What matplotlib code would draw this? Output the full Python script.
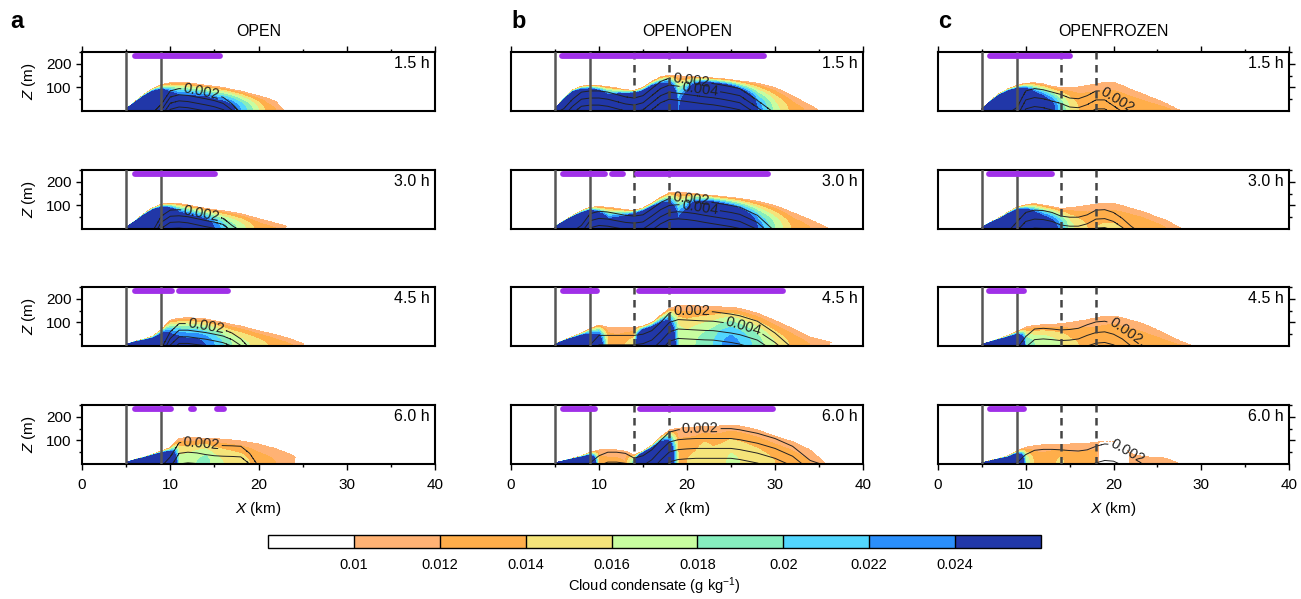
import matplotlib
matplotlib.use('Agg')
import matplotlib.pyplot as plt
import numpy as np

plt.rcParams['font.family'] = 'Liberation Sans'
plt.rcParams['mathtext.fontset'] = 'custom'
plt.rcParams['mathtext.rm'] = 'Liberation Sans'
plt.rcParams['mathtext.it'] = 'Liberation Sans:italic'

#==========
# DATA
#==========

x_nodes = [5, 6, 7, 8, 9, 10, 11, 12, 13, 14, 15, 16, 17, 18, 19, 20,
           21, 22, 23, 24, 25, 26, 28, 30, 32, 34, 36, 38]

runs = ['OPEN', 'OPENOPEN', 'OPENFROZEN']
letters = ['a', 'b', 'c']
times = ['1.5 h', '3.0 h', '4.5 h', '6.0 h']

# cloud top height (m), surface cloud condensate (g/kg), height of 0.002 line (m)
top_a1 = [10, 40, 70, 95, 112, 120, 122, 120, 115, 110, 105, 100, 92, 85, 75, 65, 55, 40, 0, 0, 0, 0, 0, 0, 0, 0, 0, 0]
q_a1 = [0.08, 0.08, 0.08, 0.07, 0.05, 0.035, 0.03, 0.03, 0.03, 0.03, 0.028, 0.027, 0.025, 0.022, 0.019, 0.016, 0.013, 0.012, 0.011, 0, 0, 0, 0, 0, 0, 0, 0, 0]
line_a1 = [-10, -10, -10, -10, 30, 85, 95, 92, 85, 78, 70, 58, 30, -10, -10, -10, -10, -10, -10, -10, -10, -10, -10, -10, -10, -10, -10, -10]

top_a2 = [8, 35, 65, 90, 105, 110, 108, 102, 95, 88, 82, 78, 72, 65, 55, 45, 35, 25, 15, 0, 0, 0, 0, 0, 0, 0, 0, 0]
q_a2 = [0.08, 0.08, 0.08, 0.08, 0.07, 0.05, 0.035, 0.032, 0.03, 0.028, 0.024, 0.021, 0.019, 0.017, 0.015, 0.013, 0.0125, 0.012, 0.011, 0, 0, 0, 0, 0, 0, 0, 0, 0]
line_a2 = [-10, -10, -10, -10, 55, 80, 82, 78, 70, 62, 55, 45, 15, -10, -10, -10, -10, -10, -10, -10, -10, -10, -10, -10, -10, -10, -10, -10]

top_a3 = [8, 20, 30, 42, 70, 110, 118, 120, 118, 115, 108, 100, 92, 85, 75, 65, 57, 48, 38, 25, 12, 0, 0, 0, 0, 0, 0, 0]
q_a3 = [0.06, 0.06, 0.05, 0.045, 0.04, 0.028, 0.026, 0.025, 0.025, 0.024, 0.022, 0.02, 0.018, 0.017, 0.016, 0.015, 0.014, 0.013, 0.0125, 0.012, 0.011, 0, 0, 0, 0, 0, 0, 0]
line_a3 = [-10, -10, -10, -10, -10, 60, 95, 95, 90, 85, 78, 70, 55, 30, -10, -10, -10, -10, -10, -10, -10, -10, -10, -10, -10, -10, -10, -10]

top_a4 = [8, 20, 30, 42, 55, 70, 110, 112, 112, 110, 108, 105, 102, 98, 92, 85, 75, 65, 50, 35, 0, 0, 0, 0, 0, 0, 0, 0]
q_a4 = [0.07, 0.07, 0.07, 0.07, 0.06, 0.04, 0.017, 0.017, 0.018, 0.019, 0.017, 0.016, 0.0155, 0.015, 0.014, 0.013, 0.0125, 0.012, 0.0115, 0.011, 0, 0, 0, 0, 0, 0, 0, 0]
line_a4 = [-10, -10, -10, -10, -10, 30, 90, 95, 92, 85, 80, 78, 77, 75, 45, -10, -10, -10, -10, -10, -10, -10, -10, -10, -10, -10, -10, -10]

top_b1 = [10, 55, 90, 105, 110, 108, 103, 98, 90, 88, 100, 125, 145, 153, 150, 147, 145, 143, 140, 137, 133, 128, 118, 100, 65, 25, -20, -60]
q_b1 = [0.08, 0.08, 0.08, 0.07, 0.06, 0.05, 0.035, 0.04, 0.05, 0.06, 0.06, 0.06, 0.05, 0.045, 0.023, 0.03, 0.05, 0.06, 0.06, 0.055, 0.05, 0.04, 0.024, 0.017, 0.013, 0.0115, 0.0105, 0]
line_b1 = [-10, 10, 50, 80, 85, 85, 80, 70, 60, 55, 65, 95, 125, 140, 135, 130, 125, 120, 116, 110, 103, 95, 45, -10, -10, -10, -10, -10]

top_b2 = [10, 35, 57, 78, 93, 95, 93, 88, 82, 79, 90, 110, 135, 155, 157, 153, 150, 146, 142, 138, 134, 130, 118, 100, 70, 40, 5, -40]
q_b2 = [0.08, 0.08, 0.08, 0.07, 0.06, 0.04, 0.028, 0.03, 0.035, 0.05, 0.06, 0.06, 0.05, 0.04, 0.025, 0.03, 0.045, 0.05, 0.05, 0.045, 0.04, 0.035, 0.024, 0.018, 0.0135, 0.012, 0.0105, 0]
line_b2 = [-10, -10, -10, 15, 65, 75, 72, 65, 58, 55, 60, 85, 112, 130, 133, 130, 125, 118, 112, 106, 100, 92, 58, -10, -10, -10, -10, -10]

top_b3 = [8, 25, 40, 55, 75, 90, 80, 78, 78, 78, 85, 100, 130, 160, 170, 172, 170, 168, 167, 166, 165, 160, 140, 108, 75, 38, 20, -10]
q_b3 = [0.07, 0.07, 0.06, 0.05, 0.035, 0.03, 0.014, 0.013, 0.014, 0.015, 0.05, 0.05, 0.045, 0.035, 0.018, 0.017, 0.018, 0.019, 0.02, 0.022, 0.023, 0.022, 0.019, 0.016, 0.0135, 0.012, 0.011, 0]
line_b3 = [-10, -10, -10, -10, 5, 45, 45, 45, 45, 45, 50, 65, 100, 140, 152, 150, 148, 146, 145, 140, 135, 128, 105, 55, -10, -10, -10, -10]

top_b4 = [6, 15, 25, 35, 50, 60, 62, 60, 55, 38, 55, 80, 115, 145, 152, 155, 157, 158, 160, 163, 166, 162, 145, 118, 95, 60, -5, -40]
q_b4 = [0.07, 0.07, 0.06, 0.05, 0.04, 0.013, 0.0125, 0.0125, 0.012, 0.02, 0.06, 0.06, 0.05, 0.035, 0.014, 0.014, 0.0145, 0.016, 0.015, 0.0155, 0.0165, 0.016, 0.015, 0.014, 0.013, 0.012, 0.011, 0]
line_b4 = [-10, -10, -10, -10, 5, 35, 50, 50, 45, 25, 35, 60, 100, 135, 145, 148, 150, 150, 150, 150, 150, 145, 130, 108, 75, 15, -10, -10]

top_c1 = [10, 45, 75, 95, 108, 118, 120, 115, 105, 100, 100, 102, 108, 115, 122, 122, 108, 92, 78, 62, 48, 32, -5, -20, -20, -20, -20, -20]
q_c1 = [0.08, 0.08, 0.08, 0.08, 0.07, 0.05, 0.035, 0.03, 0.026, 0.02, 0.016, 0.014, 0.014, 0.014, 0.014, 0.014, 0.0138, 0.0135, 0.0133, 0.013, 0.0128, 0.0125, 0.011, 0, 0, 0, 0, 0]
line_c1 = [-10, -10, -10, -10, 15, 85, 95, 90, 80, 70, 55, 52, 65, 85, 85, 60, 35, 10, -10, -10, -10, -10, -10, -10, -10, -10, -10, -10]

top_c2 = [8, 30, 48, 72, 93, 103, 108, 102, 95, 88, 90, 95, 100, 105, 110, 108, 100, 88, 78, 65, 50, 38, -2, -20, -20, -20, -20, -20]
q_c2 = [0.08, 0.08, 0.08, 0.08, 0.07, 0.05, 0.035, 0.03, 0.027, 0.022, 0.017, 0.015, 0.014, 0.014, 0.0142, 0.0142, 0.014, 0.0138, 0.0135, 0.013, 0.0125, 0.012, 0.011, 0, 0, 0, 0, 0]
line_c2 = [-10, -10, -10, -10, 30, 70, 80, 78, 70, 55, 50, 50, 60, 80, 82, 70, 45, 12, -15, -10, -10, -10, -10, -10, -10, -10, -10, -10]

top_c3 = [8, 20, 32, 45, 62, 80, 88, 90, 92, 95, 100, 105, 112, 120, 126, 128, 120, 110, 100, 85, 68, 50, 15, -10, -20, -20, -20, -20]
q_c3 = [0.07, 0.07, 0.06, 0.055, 0.045, 0.02, 0.018, 0.018, 0.017, 0.016, 0.0145, 0.014, 0.0138, 0.0135, 0.0138, 0.014, 0.0138, 0.0135, 0.0133, 0.013, 0.0128, 0.0125, 0.012, 0.011, 0, 0, 0, 0]
line_c3 = [-10, -10, -10, -10, -10, 40, 72, 75, 72, 68, 70, 75, 90, 102, 105, 95, 75, 45, 10, -15, -10, -10, -10, -10, -10, -10, -10, -10]

top_c4 = [6, 15, 25, 35, 55, 72, 78, 82, 84, 85, 85, 86, 88, 92, 98, 95, 70, 45, 35, 30, 28, 25, -5, -20, -20, -20, -20, -20]
q_c4 = [0.07, 0.07, 0.06, 0.055, 0.045, 0.018, 0.0135, 0.013, 0.0135, 0.0145, 0.013, 0.013, 0.0132, 0.0135, 0, 0, 0, 0.0115, 0.0118, 0.0112, 0.0118, 0.0115, 0.011, 0, 0, 0, 0, 0]
line_c4 = [-10, -10, -10, -10, 5, 40, 58, 62, 62, 60, 57, 55, 60, 75, 85, 82, 65, 40, 15, -15, -10, -10, -10, -10, -10, -10, -10, -10]

tops = [[top_a1, top_a2, top_a3, top_a4],
        [top_b1, top_b2, top_b3, top_b4],
        [top_c1, top_c2, top_c3, top_c4]]
qsurf = [[q_a1, q_a2, q_a3, q_a4],
         [q_b1, q_b2, q_b3, q_b4],
         [q_c1, q_c2, q_c3, q_c4]]
lines = [[line_a1, line_a2, line_a3, line_a4],
         [line_b1, line_b2, line_b3, line_b4],
         [line_c1, line_c2, line_c3, line_c4]]
# vertical spacing (m) between nested contour lines
gaps = [[26, 26, 28, 45], [30, 30, 40, 42], [38, 38, 45, 70]]

# purple bars (km)
bars = [[[(5.8, 15.8)], [(5.8, 15.3)], [(5.8, 10.4), (10.8, 16.8)],
         [(5.8, 10.3), (12.5, 12.5), (15.1, 16.3)]],
        [[(5.6, 29.0)], [(5.7, 10.9), (11.3, 12.9), (14.1, 29.4)],
         [(5.7, 10.0), (14.3, 31.1)], [(5.7, 9.7), (14.5, 30.0)]],
        [[(5.7, 15.2)], [(5.6, 13.2)], [(5.6, 10.0)], [(5.7, 10.0)]]]

# contour label spots
label_pts = [[[(13.5, 75)], [(13.5, 62)], [(14.0, 75)], [(13.5, 80)]],
             [[(20.5, 135), (21.5, 105)], [(20.5, 130), (21.5, 102)],
              [(20.5, 148), (26.5, 90)], [(21.5, 150)]],
             [[(20.5, 50)], [], [(21.5, 70)], [(21.5, 50)]]]

levels = [-1, 0.01, 0.012, 0.014, 0.016, 0.018, 0.02, 0.022, 0.024, 1.0]
colors = ['#ffffff', '#ffb274', '#ffae4a', '#f5e47a', '#c8fda0',
          '#86eebe', '#52d6fe', '#2b8ffb', '#2137a8']
tick_labels = ['0.01', '0.012', '0.014', '0.016', '0.018', '0.02', '0.022', '0.024']

#==========
# FIGURE
#==========
W, H = 1301, 599
fig = plt.figure(figsize=(W / 100, H / 100), dpi=100)

col_left = [82, 511, 938]
col_w = [353, 352, 351]
row_top = [52, 170, 287, 405]
row_h = 59

xg = np.linspace(0, 40, 801)
zg = np.linspace(0, 250, 251)
XX, ZZ = np.meshgrid(xg, zg)

cf = None
for ci in range(3):
    for ri in range(4):
        ax = fig.add_axes([col_left[ci] / W, 1 - (row_top[ri] + row_h) / H,
                           col_w[ci] / W, row_h / H])
        top = np.clip(np.interp(xg, x_nodes, tops[ci][ri], left=0, right=0), 0, None)
        qs = np.interp(xg, x_nodes, qsurf[ci][ri], left=0, right=0)
        T = np.broadcast_to(top, XX.shape)
        Q = np.broadcast_to(qs, XX.shape)
        r = ZZ / np.maximum(T, 1e-6)
        field = np.where(r < 1, 0.0101 + (Q - 0.0101) * (1 - r ** 2), -0.5)
        cf = ax.contourf(XX, ZZ, field, levels=levels, colors=colors, zorder=1)

        z2 = np.interp(xg, x_nodes, lines[ci][ri], left=-10, right=-10)
        cfield = 0.002 + 0.002 * (z2[None, :] - ZZ) / gaps[ci][ri]
        cl = ax.contour(XX, ZZ, cfield, levels=[0.002, 0.004, 0.006, 0.008],
                        colors='#222222', linewidths=0.7, zorder=2)
        if label_pts[ci][ri]:
            ax.clabel(cl, manual=label_pts[ci][ri], fmt='%.3f', fontsize=10.5,
                      inline=True, inline_spacing=2)

        for xv in [5, 9]:
            ax.axvline(xv, color='#555555', lw=1.8, zorder=3)
        if ci > 0:
            for xv in [14, 18]:
                ax.axvline(xv, color='#444444', lw=1.8, ls=(0, (3.0, 2.2)), zorder=3)
        for (x0, x1) in bars[ci][ri]:
            ax.plot([x0 + 0.2, x1 - 0.2], [232, 232], color='#a030e8', lw=4.2,
                    solid_capstyle='round', zorder=4)

        ax.text(39.4, 200, times[ri], ha='right', va='center', fontsize=11.5, zorder=5)

        ax.set_xlim(0, 40)
        ax.set_ylim(0, 250)
        for s in ax.spines.values():
            s.set_linewidth(1.5)
        ax.tick_params(which='major', direction='out', length=4, width=1)
        ax.tick_params(which='minor', direction='out', length=2.5, width=1)

        if ri == 0:
            ax.xaxis.tick_top()
            ax.set_xticks([0, 10, 20, 30, 40])
            ax.set_xticks([5, 15, 25, 35], minor=True)
            ax.tick_params(axis='x', which='both', labeltop=False)
        elif ri == 3:
            ax.set_xticks([0, 10, 20, 30, 40])
            ax.set_xticks([5, 15, 25, 35], minor=True)
            ax.tick_params(axis='x', labelsize=11, pad=6)
            ax.set_xlabel('$X$ (km)', fontsize=11, labelpad=6)
        else:
            ax.set_xticks([])

        if ci == 0:
            ax.set_yticks([100, 200])
            ax.set_yticks([50, 150, 250], minor=True)
            ax.tick_params(axis='y', labelsize=11)
            ax.set_ylabel('$Z$ (m)', fontsize=11, labelpad=6)
        elif ci == 2:
            ax.yaxis.tick_right()
            ax.set_yticks([100, 200])
            ax.set_yticks([50, 150, 250], minor=True)
            ax.tick_params(axis='y', which='both', labelright=False)
        else:
            ax.set_yticks([])

    fig.text((col_left[ci] + col_w[ci] / 2) / W, 1 - 32 / H, runs[ci],
             ha='center', va='center', fontsize=11.5)

fig.text(10 / W, 1 - 22 / H, 'a', fontsize=17, fontweight='bold', va='center')
fig.text(511 / W, 1 - 22 / H, 'b', fontsize=17, fontweight='bold', va='center')
fig.text(938 / W, 1 - 22 / H, 'c', fontsize=17, fontweight='bold', va='center')

cax = fig.add_axes([268 / W, 1 - 548 / H, 773 / W, 13 / H])
cb = fig.colorbar(cf, cax=cax, orientation='horizontal', ticks=levels[1:-1],
                  drawedges=True)
cb.set_ticklabels(tick_labels)
cb.ax.tick_params(length=0, pad=7, labelsize=10.5)
cb.outline.set_linewidth(1)
cb.dividers.set_linewidth(1)
cb.set_label('Cloud condensate (g kg$^{-1}$)', fontsize=10.5, labelpad=3)

fig.savefig('out.png', dpi=100)
